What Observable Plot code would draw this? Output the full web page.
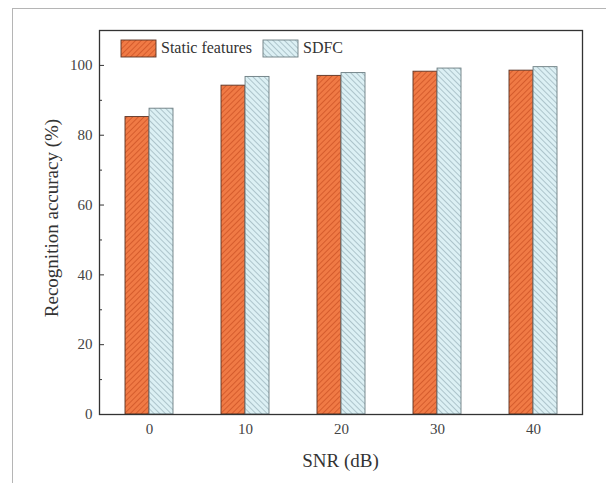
<!DOCTYPE html>
<html>
<head>
<meta charset="utf-8">
<script src="https://cdn.jsdelivr.net/npm/d3@7"></script>
<script src="https://cdn.jsdelivr.net/npm/@observablehq/plot@0.6"></script>
<style>
  html, body { margin: 0; padding: 0; background: #fff; }
  #wrap { position: relative; width: 606px; height: 483px; overflow: hidden; }
  #border { position: absolute; left: 12px; top: 8px; width: 620px; height: 500px;
            border-left: 1px solid #b5b5b5; border-top: 1px solid #b5b5b5; pointer-events: none; }
  #chart { position: absolute; left: 0; top: 0; }
</style>
</head>
<body>
<div id="wrap"><div id="chart"></div><div id="border"></div></div>
<script>
const snr = ["0", "10", "20", "30", "40"];
const series = ["Static features", "SDFC"];
const staticValues = [85.2, 94.2, 97.0, 98.2, 98.5];
const sdfcValues = [87.6, 96.7, 97.8, 99.1, 99.5];
const yTicks = [0, 20, 40, 60, 80, 100];
const yMinorTicks = [10, 30, 50, 70, 90];

const data = snr.flatMap((s, i) => [
  {snr: s, series: series[0], value: staticValues[i]},
  {snr: s, series: series[1], value: sdfcValues[i]}
]);

const W = 606, H = 483;
const mL = 99, mR = 24, mT = 30, mB = 69;
const step = (W - mL - mR) / (5 - 0.5 + 2 * 0.26);
const bw = step * 0.5;
const half = bw / 2;
const font = "'Liberation Serif', 'Times New Roman', serif";

const plot = Plot.plot({
  width: W, height: H,
  marginLeft: mL, marginRight: mR, marginTop: mT, marginBottom: mB,
  style: {fontFamily: font, fontSize: "15px", color: "#333", background: "transparent"},
  x: {type: "band", domain: snr, paddingInner: 0.5, paddingOuter: 0.26, label: null},
  y: {domain: [0, 110], label: null},
  marks: [
    Plot.barY(data.filter(d => d.series === series[0]), {
      x: "snr", y: "value", fill: "url(#hatchOrange)", stroke: "#5a3325", strokeWidth: 0.9,
      insetRight: half
    }),
    Plot.barY(data.filter(d => d.series === series[1]), {
      x: "snr", y: "value", fill: "url(#hatchBlue)", stroke: "#6b7c80", strokeWidth: 0.9,
      insetLeft: half
    }),
    Plot.frame({stroke: "#333", strokeWidth: 1.3}),
    Plot.axisY({ticks: yTicks, tickSize: 0, tickPadding: 7, fontSize: 15, fill: "#444", label: null}),
    Plot.axisY({ticks: yTicks, tickSize: 5, dx: 5, tickFormat: () => "", label: null, stroke: "#333"}),
    Plot.axisY({ticks: yMinorTicks, tickSize: 3, dx: 3, tickFormat: () => "", label: null, stroke: "#333"}),
    Plot.axisX({tickSize: 0, tickPadding: 9, fontSize: 15, fill: "#444", label: null})
  ]
});

const svg = d3.select(plot);
const defs = svg.insert("defs", ":first-child");
const pO = defs.append("pattern").attr("id", "hatchOrange").attr("patternUnits", "userSpaceOnUse")
  .attr("width", 4).attr("height", 4).attr("patternTransform", "rotate(45)");
pO.append("rect").attr("width", 4).attr("height", 4).attr("fill", "#f07a45");
pO.append("line").attr("x1", 0).attr("y1", 0).attr("x2", 0).attr("y2", 4)
  .attr("stroke", "#cf5426").attr("stroke-width", 1.6);
const pB = defs.append("pattern").attr("id", "hatchBlue").attr("patternUnits", "userSpaceOnUse")
  .attr("width", 4).attr("height", 4).attr("patternTransform", "rotate(-45)");
pB.append("rect").attr("width", 4).attr("height", 4).attr("fill", "#dcf0f4");
pB.append("line").attr("x1", 0).attr("y1", 0).attr("x2", 0).attr("y2", 4)
  .attr("stroke", "#93adb5").attr("stroke-width", 1.3);

// axis titles
svg.append("text").attr("transform", `translate(54,218) rotate(-90)`)
  .attr("text-anchor", "middle").attr("dominant-baseline", "middle")
  .attr("font-family", font).attr("font-size", 19).attr("fill", "#333")
  .text("Recognition accuracy (%)");
svg.append("text").attr("x", (mL + W - mR) / 2).attr("y", 463)
  .attr("text-anchor", "middle").attr("dominant-baseline", "middle")
  .attr("font-family", font).attr("font-size", 19).attr("fill", "#333")
  .text("SNR (dB)");

// legend inside plot
const leg = svg.append("g").attr("font-family", font).attr("font-size", 16).attr("fill", "#333")
  .attr("text-anchor", "start");
const legItems = [
  {label: series[0], fill: "url(#hatchOrange)", stroke: "#5a3325", x: 121},
  {label: series[1], fill: "url(#hatchBlue)", stroke: "#6b7c80", x: 263}
];
legItems.forEach(it => {
  leg.append("rect").attr("x", it.x).attr("y", 40).attr("width", 35).attr("height", 17)
    .attr("fill", it.fill).attr("stroke", it.stroke).attr("stroke-width", 0.9);
  leg.append("text").attr("x", it.x + 40).attr("y", 49).attr("dominant-baseline", "middle")
    .attr("text-anchor", "start").text(it.label);
});

document.getElementById("chart").appendChild(plot);
</script>
</body>
</html>
